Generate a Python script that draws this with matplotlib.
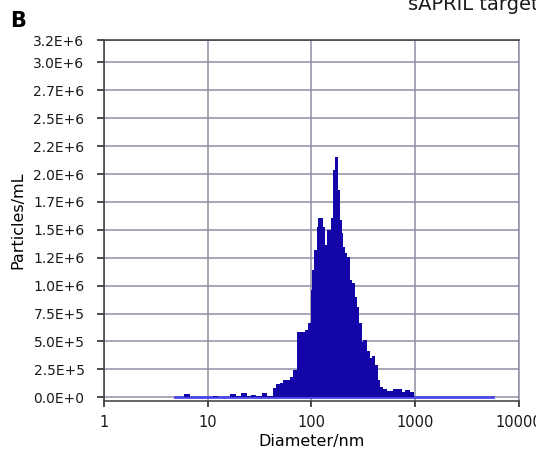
import numpy as np
import matplotlib
matplotlib.use("Agg")
import matplotlib.pyplot as plt
from matplotlib.ticker import FixedLocator, FixedFormatter, NullLocator

# =============================================================================
# DATA
# =============================================================================

# bin edges of the size distribution (nm)
bin_edges = [4.94, 5.90, 6.74, 11.2, 12.6, 16.4, 18.7, 20.9, 23.9, 26.1, 29.2,
             33.3, 37.2, 42.6, 45.5, 49.7, 53.1, 62.1, 66.3, 72.5, 82.8, 86.6,
             92.5, 98.9, 101.1, 105.7, 113.0, 115.5, 129.1, 134.9, 140.1,
             153.1, 162.3, 168.5, 181.3, 188.3, 195.5, 202.6, 210.3, 218.4,
             235.0, 244.1, 262.6, 272.7, 288.9, 304.7, 315.7, 340.4, 366.4,
             383.0, 409.3, 434.6, 457.3, 492.0, 530.7, 610.3, 740.3, 796.6,
             889.9, 972.8]

# particle concentration in each bin (particles/mL)
concentration = [0, 2.6e4, 0, 1.5e4, 0, 2.6e4, 8e3, 3.5e4, 8e3, 2.2e4, 1.2e4,
                 3.9e4, 8e3, 8.3e4, 1.19e5, 1.28e5, 1.59e5, 1.82e5, 2.44e5,
                 5.88e5, 5.85e5, 6.03e5, 6.65e5, 9.6e5, 1.14e6, 1.32e6,
                 1.525e6, 1.606e6, 1.525e6, 1.364e6, 1.498e6, 1.606e6,
                 2.036e6, 2.155e6, 1.857e6, 1.588e6, 1.471e6, 1.349e6,
                 1.292e6, 1.259e6, 1.05e6, 1.024e6, 9.0e5, 8.11e5, 6.65e5,
                 4.98e5, 5.13e5, 4.15e5, 3.52e5, 3.7e5, 2.89e5, 1.55e5, 9.2e4,
                 7.4e4, 5.9e4, 7.4e4, 5.0e4, 6.5e4, 4.7e4]

# measured range (zero baseline)
range_nm = [4.83, 5610]

y_ticks = [0, 2.5e5, 5.0e5, 7.5e5, 1.0e6, 1.25e6, 1.5e6, 1.75e6, 2.0e6,
           2.25e6, 2.5e6, 2.75e6, 3.0e6, 3.2e6]
y_labels = ['0.0E+0', '2.5E+5', '5.0E+5', '7.5E+5', '1.0E+6', '1.2E+6',
            '1.5E+6', '1.7E+6', '2.0E+6', '2.2E+6', '2.5E+6', '2.7E+6',
            '3.0E+6', '3.2E+6']
x_ticks = [1, 10, 100, 1000, 10000]
x_labels = ['1', '10', '100', '1000', '10000']

# =============================================================================
# FIGURE
# =============================================================================

fig = plt.figure(figsize=(5.36, 4.58), dpi=100)
ax = fig.add_axes([0.194, 0.1245, 0.774, 0.788])

ax.plot(range_nm, [0, 0], color='#4a46e6', linewidth=2, zorder=3)
ax.stairs(concentration, bin_edges, fill=True, color='#1405a8',
          linewidth=0, zorder=4)

ax.set_xscale('log')
ax.set_xlim(1, 10000)
ax.set_ylim(-3.3e4, 3.2e6)

ax.xaxis.set_major_locator(FixedLocator(x_ticks))
ax.xaxis.set_major_formatter(FixedFormatter(x_labels))
ax.xaxis.set_minor_locator(NullLocator())
ax.yaxis.set_major_locator(FixedLocator(y_ticks))
ax.yaxis.set_major_formatter(FixedFormatter(y_labels))

ax.grid(True, color='#8e8ea4', linewidth=1.1)
ax.set_axisbelow(True)

for side in ['left', 'bottom', 'top', 'right']:
    ax.spines[side].set_color('#3a3a3a')
    ax.spines[side].set_linewidth(1.1)
ax.spines['right'].set_color('#8e8ea4')

ax.tick_params(axis='y', direction='out', length=5, width=1.1,
               pad=9, labelsize=10, colors='#1a1a1a')
ax.tick_params(axis='x', direction='out', length=4, width=1.1,
               pad=6, labelsize=10.5, colors='#1a1a1a')

ax.set_xlabel('Diameter/nm', fontsize=11.5, labelpad=3)
ax.set_ylabel('Particles/mL', fontsize=11.5, labelpad=6)

fig.text(0.018, 0.955, 'B', fontsize=15, fontweight='bold', va='center')
fig.text(0.761, 0.978, 'sAPRIL targeted', fontsize=14, va='baseline',
         color='#1a1a1a')

fig.savefig('out.png', dpi=100)
